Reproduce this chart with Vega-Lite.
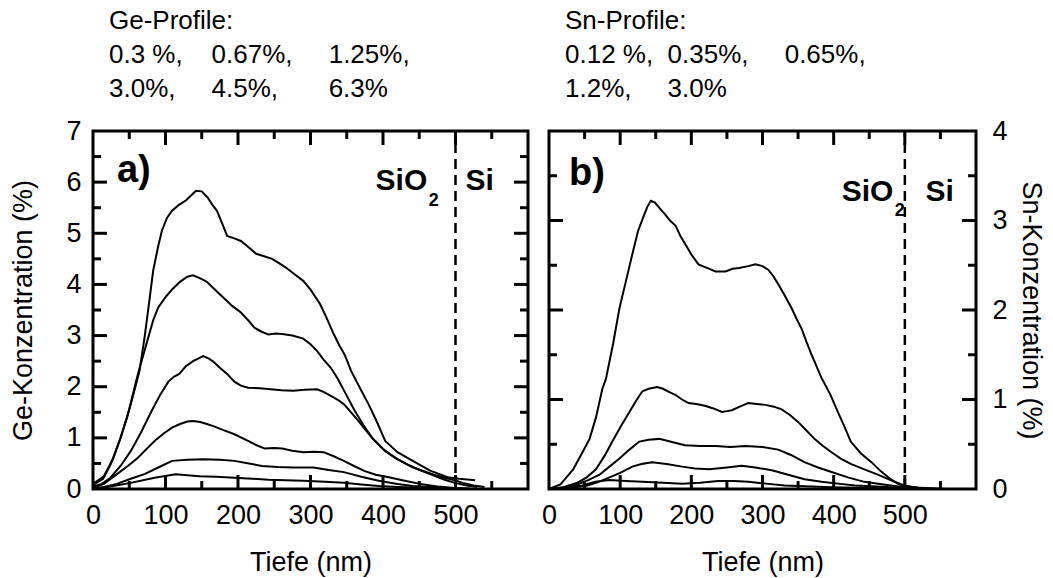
{
  "$schema": "https://vega.github.io/schema/vega-lite/v6.json",
  "background": "white",
  "padding": {"left": 8, "top": 6, "right": 2, "bottom": 0},
  "spacing": 8,
  "config": {
    "font": "Liberation Sans",
    "view": {"stroke": "black", "strokeWidth": 3},
    "axis": {
      "labelColor": "black", "labelFontSize": 27, "labelFont": "Liberation Sans",
      "titleColor": "black", "titleFontSize": 27, "titleFont": "Liberation Sans", "titleFontWeight": "normal",
      "grid": false, "labelFlush": false, "labelOverlap": false, "ticks": false, "domain": false
    }
  },
  "datasets": {
    "ge": [
      {"c":"6.3","x":0,"y":0.08},{"c":"6.3","x":14,"y":0.2},{"c":"6.3","x":25,"y":0.5},{"c":"6.3","x":38,"y":1.0},{"c":"6.3","x":50,"y":1.55},{"c":"6.3","x":57,"y":1.92},{"c":"6.3","x":64,"y":2.3},{"c":"6.3","x":71,"y":2.95},{"c":"6.3","x":77,"y":3.6},{"c":"6.3","x":83,"y":4.27},{"c":"6.3","x":90,"y":4.75},{"c":"6.3","x":95,"y":5.05},{"c":"6.3","x":102,"y":5.3},{"c":"6.3","x":109,"y":5.44},{"c":"6.3","x":118,"y":5.55},{"c":"6.3","x":128,"y":5.64},{"c":"6.3","x":136,"y":5.75},{"c":"6.3","x":142,"y":5.83},{"c":"6.3","x":150,"y":5.82},{"c":"6.3","x":158,"y":5.7},{"c":"6.3","x":165,"y":5.55},{"c":"6.3","x":171,"y":5.44},{"c":"6.3","x":178,"y":5.2},{"c":"6.3","x":185,"y":4.95},{"c":"6.3","x":195,"y":4.9},{"c":"6.3","x":204,"y":4.85},{"c":"6.3","x":215,"y":4.72},{"c":"6.3","x":225,"y":4.6},{"c":"6.3","x":236,"y":4.55},{"c":"6.3","x":247,"y":4.5},{"c":"6.3","x":256,"y":4.42},{"c":"6.3","x":266,"y":4.33},{"c":"6.3","x":278,"y":4.2},{"c":"6.3","x":290,"y":4.07},{"c":"6.3","x":300,"y":3.9},{"c":"6.3","x":313,"y":3.62},{"c":"6.3","x":322,"y":3.35},{"c":"6.3","x":332,"y":3.03},{"c":"6.3","x":340,"y":2.8},{"c":"6.3","x":347,"y":2.63},{"c":"6.3","x":356,"y":2.31},{"c":"6.3","x":368,"y":1.98},{"c":"6.3","x":380,"y":1.66},{"c":"6.3","x":392,"y":1.3},{"c":"6.3","x":403,"y":0.94},{"c":"6.3","x":420,"y":0.72},{"c":"6.3","x":441,"y":0.55},{"c":"6.3","x":465,"y":0.36},{"c":"6.3","x":489,"y":0.23},{"c":"6.3","x":505,"y":0.2},{"c":"6.3","x":520,"y":0.18},{"c":"6.3","x":527,"y":0.17},
      {"c":"4.5","x":0,"y":0.1},{"c":"4.5","x":15,"y":0.25},{"c":"4.5","x":28,"y":0.6},{"c":"4.5","x":38,"y":1.0},{"c":"4.5","x":47,"y":1.4},{"c":"4.5","x":55,"y":1.85},{"c":"4.5","x":62,"y":2.25},{"c":"4.5","x":69,"y":2.6},{"c":"4.5","x":76,"y":2.95},{"c":"4.5","x":83,"y":3.3},{"c":"4.5","x":90,"y":3.55},{"c":"4.5","x":100,"y":3.75},{"c":"4.5","x":109,"y":3.9},{"c":"4.5","x":120,"y":4.05},{"c":"4.5","x":130,"y":4.15},{"c":"4.5","x":138,"y":4.18},{"c":"4.5","x":148,"y":4.12},{"c":"4.5","x":157,"y":4.05},{"c":"4.5","x":168,"y":3.9},{"c":"4.5","x":180,"y":3.74},{"c":"4.5","x":192,"y":3.58},{"c":"4.5","x":204,"y":3.45},{"c":"4.5","x":214,"y":3.3},{"c":"4.5","x":223,"y":3.15},{"c":"4.5","x":232,"y":3.08},{"c":"4.5","x":242,"y":3.02},{"c":"4.5","x":252,"y":3.04},{"c":"4.5","x":261,"y":3.03},{"c":"4.5","x":275,"y":3.0},{"c":"4.5","x":290,"y":2.94},{"c":"4.5","x":300,"y":2.83},{"c":"4.5","x":309,"y":2.7},{"c":"4.5","x":318,"y":2.53},{"c":"4.5","x":328,"y":2.37},{"c":"4.5","x":337,"y":2.17},{"c":"4.5","x":349,"y":1.85},{"c":"4.5","x":361,"y":1.53},{"c":"4.5","x":373,"y":1.25},{"c":"4.5","x":385,"y":1.0},{"c":"4.5","x":400,"y":0.78},{"c":"4.5","x":418,"y":0.6},{"c":"4.5","x":440,"y":0.43},{"c":"4.5","x":465,"y":0.29},{"c":"4.5","x":485,"y":0.18},{"c":"4.5","x":499,"y":0.12},{"c":"4.5","x":515,"y":0.07},{"c":"4.5","x":530,"y":0.04},
      {"c":"3.0","x":0,"y":0.05},{"c":"3.0","x":12,"y":0.1},{"c":"3.0","x":24,"y":0.22},{"c":"3.0","x":38,"y":0.45},{"c":"3.0","x":52,"y":0.74},{"c":"3.0","x":66,"y":1.1},{"c":"3.0","x":81,"y":1.53},{"c":"3.0","x":93,"y":1.85},{"c":"3.0","x":104,"y":2.1},{"c":"3.0","x":112,"y":2.2},{"c":"3.0","x":119,"y":2.25},{"c":"3.0","x":128,"y":2.4},{"c":"3.0","x":138,"y":2.5},{"c":"3.0","x":145,"y":2.55},{"c":"3.0","x":152,"y":2.6},{"c":"3.0","x":160,"y":2.55},{"c":"3.0","x":167,"y":2.48},{"c":"3.0","x":175,"y":2.37},{"c":"3.0","x":185,"y":2.25},{"c":"3.0","x":195,"y":2.1},{"c":"3.0","x":204,"y":2.02},{"c":"3.0","x":214,"y":1.98},{"c":"3.0","x":230,"y":1.97},{"c":"3.0","x":245,"y":1.95},{"c":"3.0","x":260,"y":1.93},{"c":"3.0","x":276,"y":1.92},{"c":"3.0","x":292,"y":1.94},{"c":"3.0","x":309,"y":1.95},{"c":"3.0","x":318,"y":1.9},{"c":"3.0","x":328,"y":1.82},{"c":"3.0","x":337,"y":1.75},{"c":"3.0","x":346,"y":1.66},{"c":"3.0","x":356,"y":1.5},{"c":"3.0","x":366,"y":1.33},{"c":"3.0","x":375,"y":1.17},{"c":"3.0","x":385,"y":1.0},{"c":"3.0","x":394,"y":0.87},{"c":"3.0","x":403,"y":0.74},{"c":"3.0","x":418,"y":0.6},{"c":"3.0","x":432,"y":0.49},{"c":"3.0","x":450,"y":0.38},{"c":"3.0","x":470,"y":0.28},{"c":"3.0","x":485,"y":0.22},{"c":"3.0","x":499,"y":0.17},{"c":"3.0","x":510,"y":0.12},{"c":"3.0","x":525,"y":0.07},{"c":"3.0","x":540,"y":0.04},
      {"c":"1.25","x":0,"y":0.02},{"c":"1.25","x":15,"y":0.1},{"c":"1.25","x":33,"y":0.29},{"c":"1.25","x":48,"y":0.45},{"c":"1.25","x":62,"y":0.61},{"c":"1.25","x":75,"y":0.8},{"c":"1.25","x":85,"y":0.94},{"c":"1.25","x":97,"y":1.08},{"c":"1.25","x":109,"y":1.2},{"c":"1.25","x":120,"y":1.27},{"c":"1.25","x":130,"y":1.32},{"c":"1.25","x":138,"y":1.33},{"c":"1.25","x":148,"y":1.31},{"c":"1.25","x":157,"y":1.27},{"c":"1.25","x":166,"y":1.23},{"c":"1.25","x":180,"y":1.15},{"c":"1.25","x":195,"y":1.07},{"c":"1.25","x":214,"y":0.94},{"c":"1.25","x":225,"y":0.86},{"c":"1.25","x":237,"y":0.79},{"c":"1.25","x":250,"y":0.8},{"c":"1.25","x":261,"y":0.79},{"c":"1.25","x":275,"y":0.75},{"c":"1.25","x":290,"y":0.72},{"c":"1.25","x":305,"y":0.73},{"c":"1.25","x":318,"y":0.72},{"c":"1.25","x":332,"y":0.64},{"c":"1.25","x":346,"y":0.55},{"c":"1.25","x":360,"y":0.45},{"c":"1.25","x":375,"y":0.35},{"c":"1.25","x":390,"y":0.28},{"c":"1.25","x":408,"y":0.23},{"c":"1.25","x":430,"y":0.16},{"c":"1.25","x":451,"y":0.1},{"c":"1.25","x":475,"y":0.05},{"c":"1.25","x":499,"y":0.02},{"c":"1.25","x":520,"y":0.01},
      {"c":"0.67","x":0,"y":0},{"c":"0.67","x":15,"y":0.04},{"c":"0.67","x":33,"y":0.1},{"c":"0.67","x":52,"y":0.2},{"c":"0.67","x":71,"y":0.29},{"c":"0.67","x":90,"y":0.42},{"c":"0.67","x":109,"y":0.55},{"c":"0.67","x":130,"y":0.57},{"c":"0.67","x":152,"y":0.58},{"c":"0.67","x":175,"y":0.57},{"c":"0.67","x":195,"y":0.55},{"c":"0.67","x":215,"y":0.5},{"c":"0.67","x":233,"y":0.45},{"c":"0.67","x":255,"y":0.43},{"c":"0.67","x":276,"y":0.42},{"c":"0.67","x":290,"y":0.42},{"c":"0.67","x":304,"y":0.42},{"c":"0.67","x":325,"y":0.37},{"c":"0.67","x":346,"y":0.33},{"c":"0.67","x":370,"y":0.24},{"c":"0.67","x":394,"y":0.16},{"c":"0.67","x":420,"y":0.1},{"c":"0.67","x":441,"y":0.06},{"c":"0.67","x":465,"y":0.04},{"c":"0.67","x":489,"y":0.02},{"c":"0.67","x":510,"y":0.01},
      {"c":"0.3","x":0,"y":0},{"c":"0.3","x":20,"y":0.04},{"c":"0.3","x":52,"y":0.12},{"c":"0.3","x":85,"y":0.22},{"c":"0.3","x":114,"y":0.29},{"c":"0.3","x":130,"y":0.27},{"c":"0.3","x":147,"y":0.25},{"c":"0.3","x":170,"y":0.24},{"c":"0.3","x":195,"y":0.22},{"c":"0.3","x":220,"y":0.2},{"c":"0.3","x":242,"y":0.18},{"c":"0.3","x":265,"y":0.17},{"c":"0.3","x":290,"y":0.16},{"c":"0.3","x":320,"y":0.14},{"c":"0.3","x":346,"y":0.12},{"c":"0.3","x":370,"y":0.09},{"c":"0.3","x":394,"y":0.06},{"c":"0.3","x":420,"y":0.04},{"c":"0.3","x":441,"y":0.03},{"c":"0.3","x":470,"y":0.02},{"c":"0.3","x":500,"y":0.01}
    ],
    "sn": [
      {"c":"3.0","x":0,"y":0},{"c":"3.0","x":16,"y":0.05},{"c":"3.0","x":34,"y":0.22},{"c":"3.0","x":45,"y":0.38},{"c":"3.0","x":57,"y":0.56},{"c":"3.0","x":66,"y":0.8},{"c":"3.0","x":75,"y":1.12},{"c":"3.0","x":80,"y":1.23},{"c":"3.0","x":90,"y":1.62},{"c":"3.0","x":99,"y":2.02},{"c":"3.0","x":108,"y":2.32},{"c":"3.0","x":117,"y":2.62},{"c":"3.0","x":125,"y":2.88},{"c":"3.0","x":133,"y":3.05},{"c":"3.0","x":138,"y":3.15},{"c":"3.0","x":143,"y":3.22},{"c":"3.0","x":149,"y":3.2},{"c":"3.0","x":155,"y":3.14},{"c":"3.0","x":162,"y":3.08},{"c":"3.0","x":170,"y":3.0},{"c":"3.0","x":178,"y":2.94},{"c":"3.0","x":185,"y":2.82},{"c":"3.0","x":192,"y":2.73},{"c":"3.0","x":200,"y":2.62},{"c":"3.0","x":210,"y":2.51},{"c":"3.0","x":222,"y":2.47},{"c":"3.0","x":234,"y":2.43},{"c":"3.0","x":248,"y":2.43},{"c":"3.0","x":258,"y":2.46},{"c":"3.0","x":267,"y":2.47},{"c":"3.0","x":280,"y":2.49},{"c":"3.0","x":290,"y":2.51},{"c":"3.0","x":300,"y":2.49},{"c":"3.0","x":308,"y":2.45},{"c":"3.0","x":315,"y":2.38},{"c":"3.0","x":322,"y":2.29},{"c":"3.0","x":332,"y":2.15},{"c":"3.0","x":341,"y":2.02},{"c":"3.0","x":348,"y":1.9},{"c":"3.0","x":355,"y":1.79},{"c":"3.0","x":362,"y":1.64},{"c":"3.0","x":369,"y":1.5},{"c":"3.0","x":376,"y":1.37},{"c":"3.0","x":383,"y":1.24},{"c":"3.0","x":395,"y":1.06},{"c":"3.0","x":406,"y":0.86},{"c":"3.0","x":415,"y":0.7},{"c":"3.0","x":424,"y":0.53},{"c":"3.0","x":438,"y":0.4},{"c":"3.0","x":453,"y":0.3},{"c":"3.0","x":466,"y":0.2},{"c":"3.0","x":480,"y":0.11},{"c":"3.0","x":490,"y":0.06},{"c":"3.0","x":499,"y":0.03},{"c":"3.0","x":520,"y":0.01},{"c":"3.0","x":560,"y":0},
      {"c":"1.2","x":0,"y":0},{"c":"1.2","x":20,"y":0.02},{"c":"1.2","x":40,"y":0.07},{"c":"1.2","x":53,"y":0.13},{"c":"1.2","x":66,"y":0.22},{"c":"1.2","x":78,"y":0.37},{"c":"1.2","x":89,"y":0.53},{"c":"1.2","x":101,"y":0.7},{"c":"1.2","x":113,"y":0.86},{"c":"1.2","x":122,"y":0.98},{"c":"1.2","x":131,"y":1.09},{"c":"1.2","x":140,"y":1.12},{"c":"1.2","x":152,"y":1.14},{"c":"1.2","x":160,"y":1.12},{"c":"1.2","x":170,"y":1.08},{"c":"1.2","x":178,"y":1.05},{"c":"1.2","x":187,"y":1.0},{"c":"1.2","x":196,"y":0.96},{"c":"1.2","x":207,"y":0.95},{"c":"1.2","x":219,"y":0.93},{"c":"1.2","x":231,"y":0.9},{"c":"1.2","x":243,"y":0.86},{"c":"1.2","x":250,"y":0.87},{"c":"1.2","x":257,"y":0.88},{"c":"1.2","x":268,"y":0.92},{"c":"1.2","x":280,"y":0.96},{"c":"1.2","x":292,"y":0.95},{"c":"1.2","x":304,"y":0.94},{"c":"1.2","x":316,"y":0.92},{"c":"1.2","x":327,"y":0.89},{"c":"1.2","x":338,"y":0.83},{"c":"1.2","x":350,"y":0.75},{"c":"1.2","x":361,"y":0.66},{"c":"1.2","x":373,"y":0.56},{"c":"1.2","x":385,"y":0.48},{"c":"1.2","x":397,"y":0.41},{"c":"1.2","x":410,"y":0.34},{"c":"1.2","x":424,"y":0.28},{"c":"1.2","x":443,"y":0.22},{"c":"1.2","x":462,"y":0.16},{"c":"1.2","x":480,"y":0.1},{"c":"1.2","x":499,"y":0.04},{"c":"1.2","x":520,"y":0.01},{"c":"1.2","x":550,"y":0},
      {"c":"0.65","x":0,"y":0},{"c":"0.65","x":20,"y":0.01},{"c":"0.65","x":40,"y":0.05},{"c":"0.65","x":55,"y":0.1},{"c":"0.65","x":71,"y":0.16},{"c":"0.65","x":85,"y":0.25},{"c":"0.65","x":99,"y":0.34},{"c":"0.65","x":113,"y":0.44},{"c":"0.65","x":127,"y":0.53},{"c":"0.65","x":140,"y":0.55},{"c":"0.65","x":155,"y":0.56},{"c":"0.65","x":170,"y":0.53},{"c":"0.65","x":191,"y":0.49},{"c":"0.65","x":212,"y":0.48},{"c":"0.65","x":234,"y":0.48},{"c":"0.65","x":255,"y":0.47},{"c":"0.65","x":276,"y":0.48},{"c":"0.65","x":300,"y":0.47},{"c":"0.65","x":322,"y":0.44},{"c":"0.65","x":340,"y":0.38},{"c":"0.65","x":359,"y":0.3},{"c":"0.65","x":378,"y":0.24},{"c":"0.65","x":397,"y":0.19},{"c":"0.65","x":420,"y":0.13},{"c":"0.65","x":443,"y":0.08},{"c":"0.65","x":470,"y":0.05},{"c":"0.65","x":499,"y":0.02},{"c":"0.65","x":530,"y":0.01},
      {"c":"0.35","x":0,"y":0},{"c":"0.35","x":30,"y":0.01},{"c":"0.35","x":54,"y":0.04},{"c":"0.35","x":70,"y":0.08},{"c":"0.35","x":85,"y":0.13},{"c":"0.35","x":100,"y":0.18},{"c":"0.35","x":117,"y":0.25},{"c":"0.35","x":130,"y":0.28},{"c":"0.35","x":145,"y":0.3},{"c":"0.35","x":165,"y":0.28},{"c":"0.35","x":187,"y":0.25},{"c":"0.35","x":205,"y":0.23},{"c":"0.35","x":225,"y":0.22},{"c":"0.35","x":250,"y":0.24},{"c":"0.35","x":271,"y":0.26},{"c":"0.35","x":290,"y":0.24},{"c":"0.35","x":313,"y":0.21},{"c":"0.35","x":336,"y":0.16},{"c":"0.35","x":359,"y":0.11},{"c":"0.35","x":383,"y":0.08},{"c":"0.35","x":406,"y":0.06},{"c":"0.35","x":430,"y":0.04},{"c":"0.35","x":453,"y":0.03},{"c":"0.35","x":480,"y":0.02},{"c":"0.35","x":500,"y":0.01},
      {"c":"0.12","x":0,"y":0},{"c":"0.12","x":25,"y":0.02},{"c":"0.12","x":47,"y":0.04},{"c":"0.12","x":65,"y":0.08},{"c":"0.12","x":85,"y":0.1},{"c":"0.12","x":108,"y":0.09},{"c":"0.12","x":131,"y":0.08},{"c":"0.12","x":160,"y":0.07},{"c":"0.12","x":187,"y":0.06},{"c":"0.12","x":212,"y":0.07},{"c":"0.12","x":238,"y":0.09},{"c":"0.12","x":260,"y":0.09},{"c":"0.12","x":280,"y":0.08},{"c":"0.12","x":305,"y":0.06},{"c":"0.12","x":331,"y":0.04},{"c":"0.12","x":360,"y":0.03},{"c":"0.12","x":397,"y":0.02},{"c":"0.12","x":450,"y":0.01},{"c":"0.12","x":500,"y":0}
    ],
    "xticks": [
      {"x":100,"e":"b","k":"maj"},{"x":200,"e":"b","k":"maj"},{"x":300,"e":"b","k":"maj"},{"x":400,"e":"b","k":"maj"},{"x":500,"e":"b","k":"maj"},
      {"x":100,"e":"t","k":"maj"},{"x":200,"e":"t","k":"maj"},{"x":300,"e":"t","k":"maj"},{"x":400,"e":"t","k":"maj"},{"x":500,"e":"t","k":"maj"},
      {"x":50,"e":"b","k":"min"},{"x":150,"e":"b","k":"min"},{"x":250,"e":"b","k":"min"},{"x":350,"e":"b","k":"min"},{"x":450,"e":"b","k":"min"},{"x":550,"e":"b","k":"min"},
      {"x":50,"e":"t","k":"min"},{"x":150,"e":"t","k":"min"},{"x":250,"e":"t","k":"min"},{"x":350,"e":"t","k":"min"},{"x":450,"e":"t","k":"min"},{"x":550,"e":"t","k":"min"}
    ],
    "geyticks": [
      {"y":1,"e":"l","k":"maj"},{"y":2,"e":"l","k":"maj"},{"y":3,"e":"l","k":"maj"},{"y":4,"e":"l","k":"maj"},{"y":5,"e":"l","k":"maj"},{"y":6,"e":"l","k":"maj"},
      {"y":1,"e":"r","k":"maj"},{"y":2,"e":"r","k":"maj"},{"y":3,"e":"r","k":"maj"},{"y":4,"e":"r","k":"maj"},{"y":5,"e":"r","k":"maj"},{"y":6,"e":"r","k":"maj"},
      {"y":0.5,"e":"l","k":"min"},{"y":1.5,"e":"l","k":"min"},{"y":2.5,"e":"l","k":"min"},{"y":3.5,"e":"l","k":"min"},{"y":4.5,"e":"l","k":"min"},{"y":5.5,"e":"l","k":"min"},{"y":6.5,"e":"l","k":"min"},
      {"y":0.5,"e":"r","k":"min"},{"y":1.5,"e":"r","k":"min"},{"y":2.5,"e":"r","k":"min"},{"y":3.5,"e":"r","k":"min"},{"y":4.5,"e":"r","k":"min"},{"y":5.5,"e":"r","k":"min"},{"y":6.5,"e":"r","k":"min"}
    ],
    "snyticks": [
      {"y":1,"e":"l","k":"maj"},{"y":2,"e":"l","k":"maj"},{"y":3,"e":"l","k":"maj"},
      {"y":1,"e":"r","k":"maj"},{"y":2,"e":"r","k":"maj"},{"y":3,"e":"r","k":"maj"},
      {"y":0.5,"e":"l","k":"min"},{"y":1.5,"e":"l","k":"min"},{"y":2.5,"e":"l","k":"min"},{"y":3.5,"e":"l","k":"min"},
      {"y":0.5,"e":"r","k":"min"},{"y":1.5,"e":"r","k":"min"},{"y":2.5,"e":"r","k":"min"},{"y":3.5,"e":"r","k":"min"}
    ]
  },
  "hconcat": [
    {
      "width": 435, "height": 358,
      "title": {
        "text": ["Ge-Profile:", "0.3 %,\u00a0\u00a0\u00a0\u00a00.67%,\u00a0\u00a0\u00a0\u00a0\u00a01.25%,", "3.0%,\u00a0\u00a0\u00a0\u00a0\u00a04.5%,\u00a0\u00a0\u00a0\u00a0\u00a0\u00a0\u00a06.3%"],
        "anchor": "start", "frame": "group", "dx": 16, "fontSize": 26, "fontWeight": "normal",
        "font": "Liberation Sans", "lineHeight": 34, "baseline": "bottom", "offset": -11, "color": "black"
      },
      "layer": [
        {
          "data": {"name": "ge"},
          "mark": {"type": "line", "color": "black", "strokeWidth": 2},
          "encoding": {
            "x": {"field": "x", "type": "quantitative", "scale": {"domain": [0, 600], "nice": false},
                  "axis": {"orient": "bottom", "values": [0,100,200,300,400,500], "format": "d", "labelPadding": 13, "title": "Tiefe (nm)", "titlePadding": 21}},
            "y": {"field": "y", "type": "quantitative", "scale": {"domain": [0, 7], "nice": false},
                  "axis": {"orient": "left", "values": [0,1,2,3,4,5,6,7], "format": "d", "labelPadding": 12, "title": "Ge-Konzentration (%)", "titlePadding": 28}},
            "detail": {"field": "c"}
          }
        },
        {
          "data": {"values": [{"x": 500, "y": 0, "y2": 7}]},
          "mark": {"type": "rule", "color": "black", "strokeWidth": 2.5, "strokeDash": [10, 6]},
          "encoding": {
            "x": {"field": "x", "type": "quantitative"},
            "y": {"field": "y", "type": "quantitative"},
            "y2": {"field": "y2"}
          }
        },
        {
          "data": {"name": "xticks"},
          "transform": [
            {"calculate": "datum.k === 'maj' ? 0.274 : 0.156", "as": "len"},
            {"calculate": "datum.e === 'b' ? 0 : 7", "as": "y0"},
            {"calculate": "datum.e === 'b' ? datum.len : 7 - datum.len", "as": "y1"}
          ],
          "mark": {"type": "rule", "color": "black", "strokeWidth": 3},
          "encoding": {"x": {"field": "x", "type": "quantitative"}, "y": {"field": "y0", "type": "quantitative"}, "y2": {"field": "y1"}}
        },
        {
          "data": {"name": "geyticks"},
          "transform": [
            {"calculate": "datum.k === 'maj' ? 19.3 : 11", "as": "len"},
            {"calculate": "datum.e === 'l' ? 0 : 600", "as": "x0"},
            {"calculate": "datum.e === 'l' ? datum.len : 600 - datum.len", "as": "x1"}
          ],
          "mark": {"type": "rule", "color": "black", "strokeWidth": 3},
          "encoding": {"x": {"field": "x0", "type": "quantitative"}, "x2": {"field": "x1"}, "y": {"field": "y", "type": "quantitative"}}
        },
        {
          "data": {"values": [{"t": "a)", "x": 33, "y": 6.0}]},
          "mark": {"type": "text", "color": "black", "font": "Liberation Sans", "fontWeight": "bold", "fontSize": 38, "align": "left", "baseline": "alphabetic"},
          "encoding": {"x": {"field": "x", "type": "quantitative"}, "y": {"field": "y", "type": "quantitative"}, "text": {"field": "t"}}
        },
        {
          "data": {"values": [{"t": "SiO", "x": 461, "y": 5.84}, {"t": "Si", "x": 553, "y": 5.84}]},
          "mark": {"type": "text", "color": "black", "font": "Liberation Sans", "fontWeight": "bold", "fontSize": 30, "align": "right", "baseline": "alphabetic"},
          "encoding": {"x": {"field": "x", "type": "quantitative"}, "y": {"field": "y", "type": "quantitative"}, "text": {"field": "t"}}
        },
        {
          "data": {"values": [{"t": "2", "x": 463, "y": 5.53}]},
          "mark": {"type": "text", "color": "black", "font": "Liberation Sans", "fontWeight": "bold", "fontSize": 18, "align": "left", "baseline": "alphabetic"},
          "encoding": {"x": {"field": "x", "type": "quantitative"}, "y": {"field": "y", "type": "quantitative"}, "text": {"field": "t"}}
        }
      ]
    },
    {
      "width": 427, "height": 358,
      "title": {
        "text": ["Sn-Profile:", "0.12 %,\u00a0\u00a00.35%,\u00a0\u00a0\u00a0\u00a0\u00a00.65%,", "1.2%,\u00a0\u00a0\u00a0\u00a0\u00a03.0%"],
        "anchor": "start", "frame": "group", "dx": 16, "fontSize": 26, "fontWeight": "normal",
        "font": "Liberation Sans", "lineHeight": 34, "baseline": "bottom", "offset": -11, "color": "black"
      },
      "layer": [
        {
          "data": {"name": "sn"},
          "mark": {"type": "line", "color": "black", "strokeWidth": 2},
          "encoding": {
            "x": {"field": "x", "type": "quantitative", "scale": {"domain": [0, 600], "nice": false},
                  "axis": {"orient": "bottom", "values": [0,100,200,300,400,500], "format": "d", "labelPadding": 13, "title": "Tiefe (nm)", "titlePadding": 21}},
            "y": {"field": "y", "type": "quantitative", "scale": {"domain": [0, 4], "nice": false},
                  "axis": {"orient": "right", "values": [0,1,2,3,4], "format": "d", "labelPadding": 16, "title": "Sn-Konzentration (%)", "titlePadding": 9}},
            "detail": {"field": "c"}
          }
        },
        {
          "data": {"values": [{"x": 500, "y": 0, "y2": 4}]},
          "mark": {"type": "rule", "color": "black", "strokeWidth": 2.5, "strokeDash": [10, 6]},
          "encoding": {
            "x": {"field": "x", "type": "quantitative"},
            "y": {"field": "y", "type": "quantitative"},
            "y2": {"field": "y2"}
          }
        },
        {
          "data": {"name": "xticks"},
          "transform": [
            {"calculate": "datum.k === 'maj' ? 0.156 : 0.089", "as": "len"},
            {"calculate": "datum.e === 'b' ? 0 : 4", "as": "y0"},
            {"calculate": "datum.e === 'b' ? datum.len : 4 - datum.len", "as": "y1"}
          ],
          "mark": {"type": "rule", "color": "black", "strokeWidth": 3},
          "encoding": {"x": {"field": "x", "type": "quantitative"}, "y": {"field": "y0", "type": "quantitative"}, "y2": {"field": "y1"}}
        },
        {
          "data": {"name": "snyticks"},
          "transform": [
            {"calculate": "datum.k === 'maj' ? 19.7 : 11.2", "as": "len"},
            {"calculate": "datum.e === 'l' ? 0 : 600", "as": "x0"},
            {"calculate": "datum.e === 'l' ? datum.len : 600 - datum.len", "as": "x1"}
          ],
          "mark": {"type": "rule", "color": "black", "strokeWidth": 3},
          "encoding": {"x": {"field": "x0", "type": "quantitative"}, "x2": {"field": "x1"}, "y": {"field": "y", "type": "quantitative"}}
        },
        {
          "data": {"values": [{"t": "b)", "x": 28, "y": 3.4}]},
          "mark": {"type": "text", "color": "black", "font": "Liberation Sans", "fontWeight": "bold", "fontSize": 38, "align": "left", "baseline": "alphabetic"},
          "encoding": {"x": {"field": "x", "type": "quantitative"}, "y": {"field": "y", "type": "quantitative"}, "text": {"field": "t"}}
        },
        {
          "data": {"values": [{"t": "SiO", "x": 484, "y": 3.22}, {"t": "Si", "x": 569, "y": 3.22}]},
          "mark": {"type": "text", "color": "black", "font": "Liberation Sans", "fontWeight": "bold", "fontSize": 30, "align": "right", "baseline": "alphabetic"},
          "encoding": {"x": {"field": "x", "type": "quantitative"}, "y": {"field": "y", "type": "quantitative"}, "text": {"field": "t"}}
        },
        {
          "data": {"values": [{"t": "2", "x": 486, "y": 3.05}]},
          "mark": {"type": "text", "color": "black", "font": "Liberation Sans", "fontWeight": "bold", "fontSize": 18, "align": "left", "baseline": "alphabetic"},
          "encoding": {"x": {"field": "x", "type": "quantitative"}, "y": {"field": "y", "type": "quantitative"}, "text": {"field": "t"}}
        }
      ]
    }
  ]
}
